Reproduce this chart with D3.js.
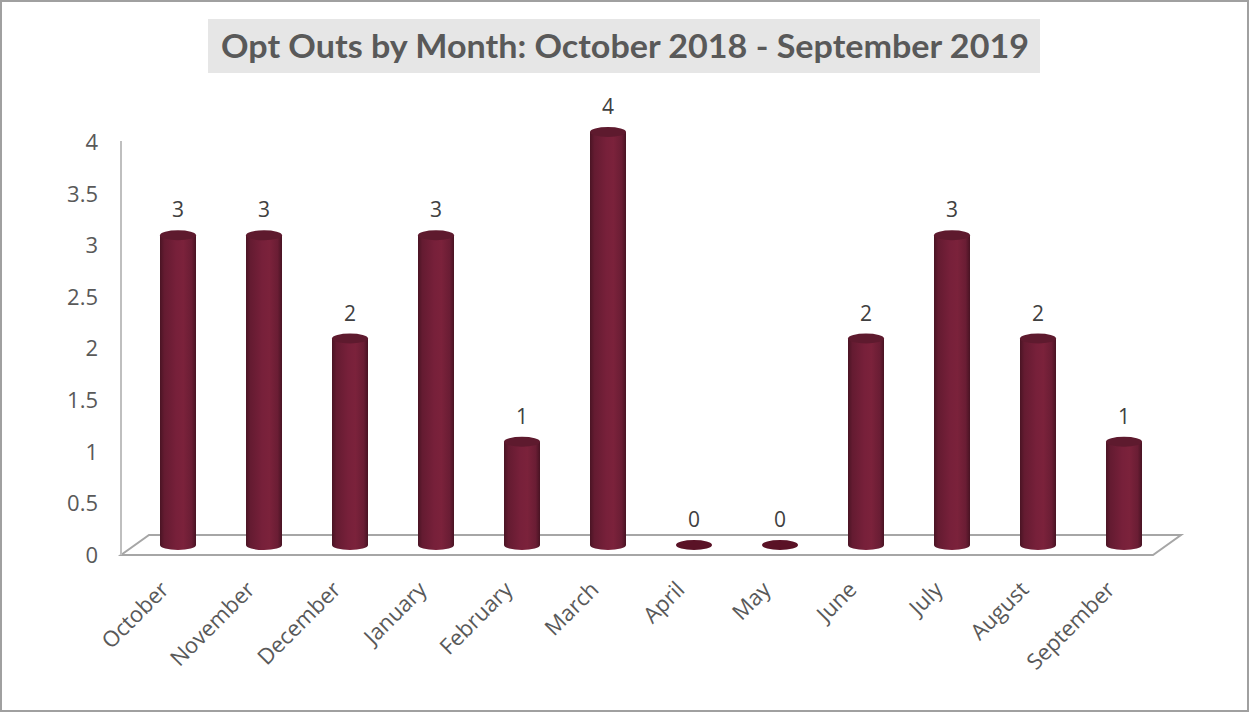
<!DOCTYPE html>
<html>
<head>
<meta charset="utf-8">
<script src="https://cdn.jsdelivr.net/npm/d3@7"></script>
<style>
  body { margin: 0; background: #fff; }
  svg text { font-family: "Open Sans", "Noto Sans", sans-serif; }
</style>
</head>
<body>
<div id="chart"></div>
<script>
// Opt outs per month
var months = ["October", "November", "December", "January", "February", "March",
  "April", "May", "June", "July", "August", "September"];
var optOuts = [3, 3, 2, 3, 1, 4, 0, 0, 2, 3, 2, 1];
var yTicks = [0, 0.5, 1, 1.5, 2, 2.5, 3, 3.5, 4];

var width = 1250;
var height = 713;

// front plane of the plot, and the depth shift of the floor
var plotLeft = 121, plotRight = 1153, plotBottom = 555, plotTop = 142;
var depthX = 28, depthY = -20;

var svg = d3.select("#chart").append("svg")
  .attr("width", width)
  .attr("height", height);

// outer border
svg.append("rect")
  .attr("x", 1).attr("y", 1)
  .attr("width", width - 3).attr("height", height - 3)
  .attr("fill", "#fff")
  .attr("stroke", "#a0a0a0")
  .attr("stroke-width", 2);

// Title
svg.append("rect")
  .attr("x", 208).attr("y", 19)
  .attr("width", 832).attr("height", 54)
  .attr("fill", "#e6e6e6");
svg.append("text")
  .attr("x", 625).attr("y", 58)
  .attr("text-anchor", "middle")
  .attr("font-size", 32)
  .attr("font-weight", "bold")
  .attr("fill", "#595959")
  .attr("textLength", 808)
  .attr("lengthAdjust", "spacingAndGlyphs")
  .style("font-family", "Lato, 'Open Sans', sans-serif")
  .text("Opt Outs by Month: October 2018 - September 2019");

var xScale = d3.scaleBand().domain(months).range([plotLeft, plotRight]);
var yScale = d3.scaleLinear().domain([0, 4]).range([plotBottom, plotTop]);

// floor
svg.append("path")
  .attr("d", "M" + plotLeft + "," + plotBottom + "L" + plotRight + "," + plotBottom +
    "L" + (plotRight + depthX) + "," + (plotBottom + depthY) +
    "L" + (plotLeft + depthX) + "," + (plotBottom + depthY) + "Z")
  .attr("fill", "none")
  .attr("stroke", "#a6a6a6")
  .attr("stroke-width", 2);

// Y axis line
svg.append("line")
  .attr("x1", plotLeft).attr("x2", plotLeft)
  .attr("y1", plotTop - 1).attr("y2", plotBottom)
  .attr("stroke", "#bfbfbf")
  .attr("stroke-width", 2);

// Y tick labels
svg.append("g").selectAll("text")
  .data(yTicks)
  .enter().append("text")
  .attr("x", 98)
  .attr("y", function(d) { return yScale(d); })
  .attr("dy", "0.36em")
  .attr("text-anchor", "end")
  .attr("font-size", 22)
  .attr("fill", "#595959")
  .text(function(d) { return d; });

// X labels
svg.append("g").selectAll("text")
  .data(months)
  .enter().append("text")
  .attr("transform", function(d) {
    return "translate(" + (xScale(d) + xScale.bandwidth() / 2 + 6) + "," + 591 + ")rotate(-45)";
  })
  .attr("text-anchor", "end")
  .attr("font-size", 22)
  .attr("fill", "#595959")
  .text(function(d) { return d; });

// cylinder shading
var defs = svg.append("defs");
var grad = defs.append("linearGradient")
  .attr("id", "cyl")
  .attr("x1", "0%").attr("x2", "100%").attr("y1", "0%").attr("y2", "0%");
[["0%", "#4a1424"], ["12%", "#641b31"], ["45%", "#77203a"], ["65%", "#7b223b"],
  ["88%", "#6a1d34"], ["100%", "#481323"]].forEach(function(s) {
  grad.append("stop").attr("offset", s[0]).attr("stop-color", s[1]);
});

var rx = 18, ry = 5;
var shiftX = depthX / 2, shiftY = depthY / 2;

var bars = svg.append("g").selectAll("g")
  .data(months.map(function(m, i) { return { month: m, value: optOuts[i] }; }))
  .enter().append("g");

bars.filter(function(d) { return d.value > 0; })
  .append("path")
  .attr("d", function(d) {
    var cx = xScale(d.month) + xScale.bandwidth() / 2 + shiftX;
    var yb = yScale(0) + shiftY;
    var yt = yScale(d.value) + shiftY;
    return "M" + (cx - rx) + "," + yt + "L" + (cx - rx) + "," + yb +
      "A" + rx + "," + ry + " 0 0 0 " + (cx + rx) + "," + yb +
      "L" + (cx + rx) + "," + yt + "Z";
  })
  .attr("fill", "url(#cyl)");

bars.append("ellipse")
  .attr("cx", function(d) { return xScale(d.month) + xScale.bandwidth() / 2 + shiftX; })
  .attr("cy", function(d) { return yScale(d.value) + shiftY; })
  .attr("rx", rx)
  .attr("ry", ry)
  .attr("fill", function(d) { return d.value > 0 ? "#5e1a2e" : "#5a1226"; });

// value labels
bars.append("text")
  .attr("x", function(d) { return xScale(d.month) + xScale.bandwidth() / 2 + shiftX; })
  .attr("y", function(d) { return yScale(d.value) + shiftY - 18; })
  .attr("text-anchor", "middle")
  .attr("font-size", 21)
  .attr("fill", "#404040")
  .text(function(d) { return d.value; });
</script>
</body>
</html>
